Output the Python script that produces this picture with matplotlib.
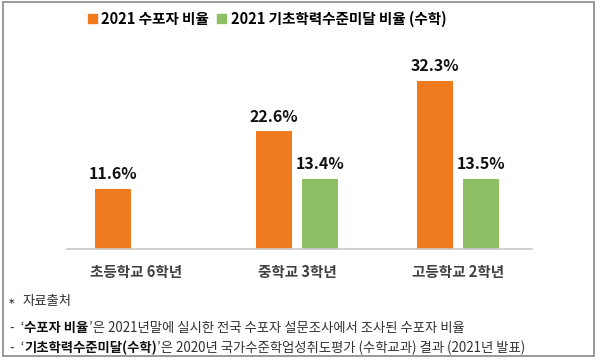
import numpy as np
import matplotlib
matplotlib.use("Agg")
from matplotlib import pyplot as plt
from matplotlib.patches import Rectangle, Patch

plt.rcParams['font.family'] = ['Noto Sans CJK KR', 'DejaVu Sans']

# data (%)
categories = ['초등학교 6학년', '중학교 3학년', '고등학교 2학년']
giveup_rate = [11.6, 22.6, 32.3]          # 2021 수포자 비율
below_basic = [np.nan, 13.4, 13.5]        # 2021 기초학력수준미달 비율 (수학)
series_names = ['2021 수포자 비율', '2021 기초학력수준미달 비율 (수학)']

ORANGE = '#F07A1E'
GREEN = '#8FBF65'

fig = plt.figure(figsize=(6, 3.61), dpi=100)
ax = fig.add_axes([67/600, 1 - 249/361, 465/600, 189/361])

x = np.arange(len(categories))
w = 0.224
off = 0.143
for xi, v in zip(x, giveup_rate):
    ax.bar(xi - off, v, w, color=ORANGE)
    ax.annotate(f'{v:.1f}%', (xi - off, v), xytext=(0, 5), textcoords='offset points',
                ha='center', va='bottom', fontsize=11.5, fontweight='bold', color='#111')
for xi, v in zip(x, below_basic):
    if np.isnan(v):
        continue
    ax.bar(xi + off, v, w, color=GREEN)
    ax.annotate(f'{v:.1f}%', (xi + off, v), xytext=(0, 5), textcoords='offset points',
                ha='center', va='bottom', fontsize=11.5, fontweight='bold', color='#111')

ax.set_xlim(-69/161, 2 + 74/161)
ax.set_ylim(0, 189/5.2)
for s in ['top', 'right', 'left']:
    ax.spines[s].set_visible(False)
ax.spines['bottom'].set_color('#C8C8C8')
ax.spines['bottom'].set_linewidth(1.2)
ax.set_yticks([])
ax.set_xticks(x)
ax.set_xticklabels(categories, fontsize=10.5, fontweight='bold', color='#404040')
ax.tick_params(axis='x', length=0, pad=11)

handles = [Patch(color=ORANGE), Patch(color=GREEN)]
fig.legend(handles, series_names, loc='center', bbox_to_anchor=(0.445, 1 - 19/361),
           ncol=2, frameon=False, prop={'weight': 'bold', 'size': 10.5},
           handlelength=0.6, handleheight=0.6, handletextpad=0.3, columnspacing=0.6)

# outer border
fig.patches.append(Rectangle((3/600, 5/361), 591/600, 354/361, transform=fig.transFigure,
                             fill=False, edgecolor='#888888', linewidth=1.2))

# source notes
note_size = 9.6
fig.text(8/600, 1 - 301/361, '∗', fontsize=6.5, color='#333', va='center')
fig.text(23/600, 1 - 301/361, '자료출처', fontsize=note_size, color='#333', va='center')


def line_with_bold(y, parts):
    prev = fig.text(10/600, 1 - y/361, parts[0][0], fontsize=note_size, color='#333',
                    fontweight=parts[0][1], va='baseline', ha='left')
    for s, wt in parts[1:]:
        prev = plt.annotate(s, xy=(1, 0), xycoords=prev, fontsize=note_size,
                            color='#111' if wt == 'bold' else '#333', fontweight=wt,
                            va='bottom', ha='left')


line_with_bold(332, [('-  ‘', 'normal'), ('수포자 비율', 'bold'),
                     ('’은 2021년말에 실시한 전국 수포자 설문조사에서 조사된 수포자 비율', 'normal')])
line_with_bold(352, [('-  ‘', 'normal'), ('기초학력수준미달(수학)', 'bold'),
                     ('’은 2020년 국가수준학업성취도평가 (수학교과) 결과 (2021년 발표)', 'normal')])

fig.savefig('out.png', dpi=100)
